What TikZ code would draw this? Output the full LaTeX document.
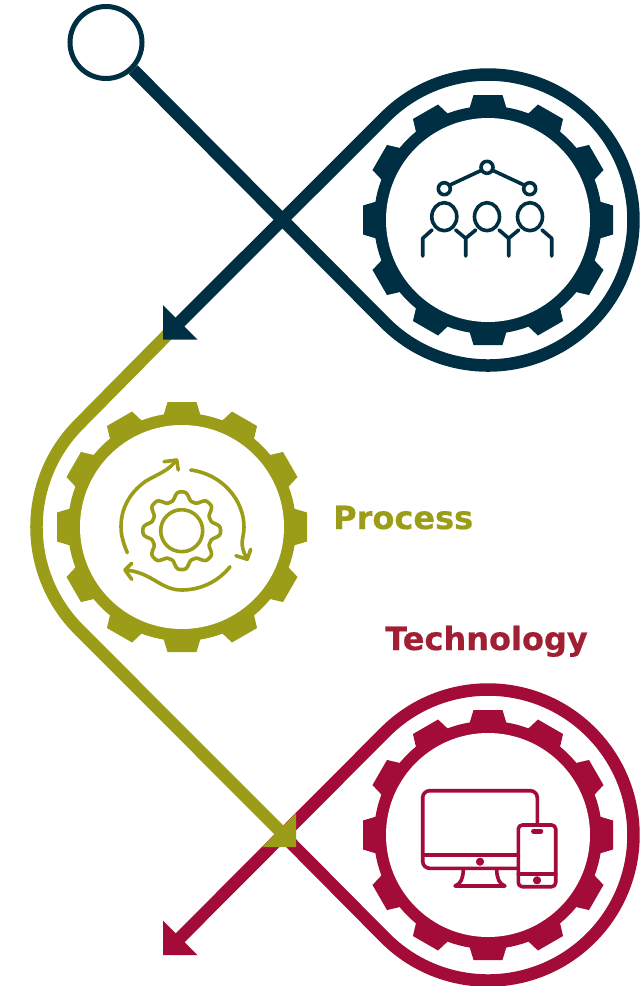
\documentclass[tikz,border=0pt]{standalone}
\usepackage{fontspec}
\setmainfont[BoldFeatures={FakeBold=0.5}]{DejaVu Sans}
\usetikzlibrary{positioning}

\definecolor{navy}{HTML}{002F43}
\definecolor{olive}{HTML}{9B9D18}
\definecolor{crimson}{HTML}{A30B38}
\definecolor{techtext}{HTML}{A11F33}

\tikzset{
    gear/.pic={
        \fill[pic actions] (0,0) circle (114);
        \foreach \a in {0,30,...,330} {
            \fill[pic actions,rotate=\a] (-19,-110) -- (-14.5,-125) -- (14.5,-125) -- (19,-110) -- cycle;
        }
        \fill[white] (0,0) circle (102);
    },
    route/.style={line width=12.5pt},
    icon/.style={line width=3.6pt,line cap=round,line join=round},
    title/.style={font=\bfseries\fontsize{32}{36}\selectfont,anchor=base west,inner sep=0pt}
}

\begin{document}
\begin{tikzpicture}[x=1pt,y=1pt,yscale=-1]

    \useasboundingbox (0,0) rectangle (641,986);

    \coordinate (people) at (488,220);
    \coordinate (process) at (182,527);
    \coordinate (tech) at (488,835);
    \coordinate (crossing) at (283,835);
    \coordinate (peopleend) at (172,330);
    \coordinate (processend) at (289,840);
    \coordinate (techend) at (172,946);

    % routes, last one on top
    \draw[route,crimson] (crossing) -- (385.1,937.9)
        arc[start angle=135,end angle=-135,radius=145.5] -- (techend);
    \fill[crimson] (163,920.5) -- (197.5,955) -- (163,955) -- cycle;

    \draw[route,olive] (peopleend) -- (79.1,424.1)
        arc[start angle=-135,end angle=-225,radius=145.5] -- (processend);
    \fill[olive] (296,813) -- (296,847) -- (262,847) -- cycle;

    \node[circle,draw=navy,line width=5pt,fill=white,minimum size=72pt,inner sep=0pt] (start) at (106,42.5) {};
    \draw[route,navy] (start.-45) -- (385.1,322.9)
        arc[start angle=135,end angle=-135,radius=145.5] -- (peopleend);
    \fill[navy] (163,305) -- (197.5,339.5) -- (163,339.5) -- cycle;

    % gears
    \pic[fill=navy] at (people) {gear};
    \pic[fill=olive] at (process) {gear};
    \pic[fill=crimson] at (tech) {gear};

    % people icon
    \begin{scope}[icon,draw=navy]
        \draw (487,167.3) circle (6);
        \draw (444.3,188.7) circle (6);
        \draw (529.7,188.7) circle (6);
        \draw (481,170.5) -- (450,185);
        \draw (493,170.5) -- (524,185);
        \foreach \x in {444.3,487,530} {
            \draw (\x,216.7) ellipse (12.5 and 14);
        }
        \draw (432,230) -- (422.7,238.3) -- (422.7,256);
        \draw (455.7,230) -- (465.7,238.3) -- (475.7,230) (465.7,238.3) -- (465.7,256);
        \draw (499,230) -- (508.7,238.3) -- (518.7,230) (508.7,238.3) -- (508.7,256);
        \draw (542,230) -- (551.7,238.3) -- (551.7,256);
    \end{scope}

    % process icon
    \begin{scope}[icon,draw=olive,shift={(181.7,530.7)}]
        \draw (0,0) circle (21);
        \draw plot[domain=0:360,samples=161,smooth] (\x:{34.75+4.6*(cos(8*\x)-0.12*cos(24*\x))}) -- cycle;
    \end{scope}
    \begin{scope}[icon,draw=olive]
        \draw (127.3,552.7) .. controls (122,540) and (121,533) .. (121,526.7)
            .. controls (121,505) and (133,490) .. (146,481)
            .. controls (160,473) and (168,471) .. (176.7,460);
        \draw (164,461.7) -- (176.7,460) -- (178.3,470);
        \draw (190.7,470) .. controls (222,474) and (244,500) .. (244,527)
            .. controls (244,540) and (238,542) .. (247.3,559.3);
        \draw (236,555.7) -- (247.3,559.3) -- (250.7,549.3);
        \draw (230,566.7) .. controls (218,582) and (200,590) .. (181.7,590)
            .. controls (160,590) and (152,572) .. (125,570);
        \draw (131.7,563.3) -- (125,570) -- (131.7,579.3);
    \end{scope}

    % technology icon
    \begin{scope}[icon,draw=crimson]
        \draw (516.7,868.3) -- (429.7,868.3) to[out=180,in=90] (422.7,861.3) -- (422.7,797.7)
            to[out=-90,in=180] (429.7,790.7) -- (530.3,790.7) to[out=0,in=-90] (537.3,797.7) -- (537.3,823.3);
        \draw (422.7,855) -- (516.7,855);
        \draw (480,861.7) circle (2.2);
        \draw (463.3,870) .. controls (463,878) and (461,884) .. (455,886) -- (505,886)
            .. controls (499,884) and (497,878) .. (496.7,870);
        \draw[rounded corners=4pt] (518.3,825) rectangle (555.7,886.7);
        \draw (518.3,874) -- (555.7,874);
        \draw[line width=4.4pt] (533.3,831.3) -- (541,831.3);
        \draw (537,880.3) circle (2.2);
    \end{scope}

    % labels
    \node[title,text=olive] (processlabel) at (333,529) {Process};
    \node[title,text=techtext] (techlabel) at (385,650) {Technology};

\end{tikzpicture}
\end{document}
